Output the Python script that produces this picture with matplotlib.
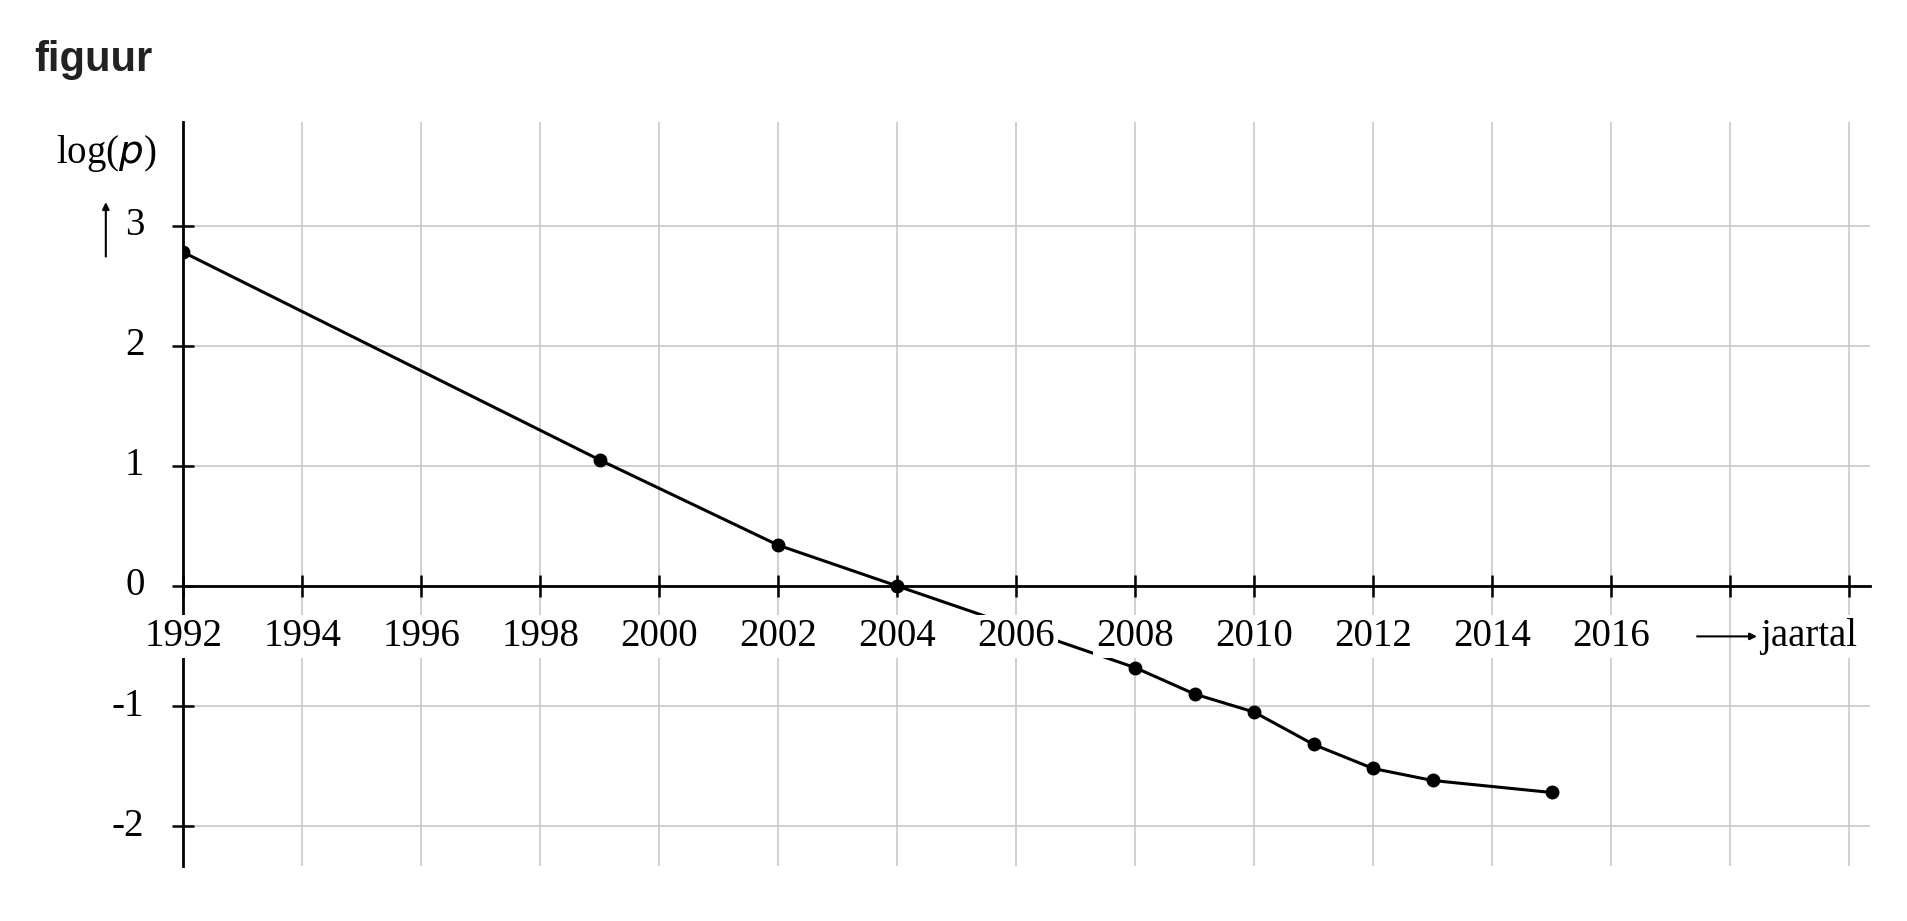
import matplotlib
matplotlib.use("Agg")
import matplotlib.pyplot as plt

years = [1992, 1999, 2002, 2004, 2008, 2009, 2010, 2011, 2012, 2013, 2015]
logp = [2.78, 1.05, 0.34, 0.0, -0.68, -0.90, -1.05, -1.32, -1.52, -1.62, -1.72]
xticks = list(range(1992, 2017, 2))
yticks = [-2, -1, 0, 1, 2, 3]

fig = plt.figure(figsize=(19.08, 9.21), dpi=100)
ax = fig.add_axes([0.096, 0.06, 0.884, 0.807])
ax.set_xlim(1992, 2020.35)
ax.set_ylim(-2.33, 3.86)
for x in range(1992, 2021, 2):
    ax.axvline(x, color="#c8c8c8", lw=1.2, zorder=0)
for y in yticks:
    ax.axhline(y, color="#c8c8c8", lw=1.2, zorder=0)
for s in ["top", "right"]:
    ax.spines[s].set_visible(False)
ax.spines["bottom"].set_position(("data", 0))
ax.spines["left"].set_position(("data", 1992))
ax.spines["left"].set_linewidth(2)
ax.spines["bottom"].set_linewidth(2)
ax.plot(years, logp, color="black", lw=2.2, marker="o", ms=9, zorder=2)
ax.set_xticks(list(range(1992, 2021, 2)))
ax.set_xticklabels([])
ax.set_yticks(yticks)
ax.set_yticklabels([])
ax.tick_params(axis="x", direction="inout", length=16, width=1.8)
ax.tick_params(axis="y", direction="inout", length=16, width=1.8)
ff = "Liberation Serif"
for x in xticks:
    ax.text(x, -0.42, str(x), ha="center", va="center", fontsize=28, family=ff,
            bbox=dict(facecolor="white", edgecolor="none", pad=2), zorder=3)
for y in yticks:
    ax.text(1991.35, y, str(y), ha="right", va="center", fontsize=28, family=ff)
ax.annotate("", xy=(2018.5, -0.42), xytext=(2017.4, -0.42),
            arrowprops=dict(arrowstyle="-|>", color="black", lw=1.5), zorder=3)
ax.text(2018.5, -0.42, "jaartal", ha="left", va="center", fontsize=28, family=ff,
        bbox=dict(facecolor="white", edgecolor="none", pad=2), zorder=3)
ax.text(1990.7, 3.6, r"log($\it{p}$)", ha="center", va="center", fontsize=28, family=ff, clip_on=False)
ax.annotate("", xy=(1990.7, 3.22), xytext=(1990.7, 2.72),
            arrowprops=dict(arrowstyle="-|>", color="black", lw=1.5), annotation_clip=False)
fig.text(0.018, 0.935, "figuur", fontsize=30, fontweight="bold", family="Liberation Sans", color="#222222", va="center")
fig.savefig("out.png", dpi=100)
